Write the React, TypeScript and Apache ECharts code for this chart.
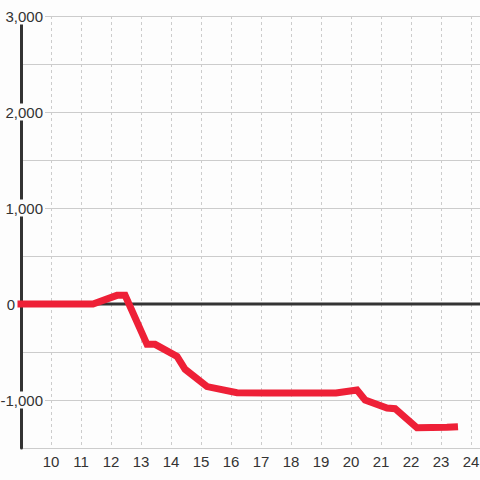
import React, { useEffect, useRef } from "react";
import * as echarts from "echarts";

const xValues = [9.0, 11.4, 12.2, 12.47, 13.2, 13.47, 14.2, 14.47, 15.2, 16.2, 17.2, 18.2, 19.2, 19.5, 20.2, 20.47, 21.2, 21.47, 22.2, 23.2, 23.45];
const yValues = [0, 0, 90, 90, -420, -420, -545, -680, -860, -925, -927, -927, -927, -927, -896, -1000, -1083, -1090, -1290, -1285, -1280];
const zeroLineX = [9, 24.3];
const zeroLineY = [0, 0];
const xTicks = [10, 11, 12, 13, 14, 15, 16, 17, 18, 19, 20, 21, 22, 23, 24];
const yLabelValues = [-1000, 0, 1000, 2000, 3000];

const BG = "#fdfdfd";
const FONT = "'Liberation Sans', Arial, sans-serif";

export default function App() {
  const ref = useRef<HTMLDivElement>(null);
  useEffect(() => {
    if (!ref.current) return;
    const chart = echarts.init(ref.current, null, { renderer: "svg" });
    const data = xValues.map((x, i) => [x, yValues[i]]);
    const zeroData = zeroLineX.map((x, i) => [x, zeroLineY[i]]);
    chart.setOption({
      animation: false,
      backgroundColor: BG,
      textStyle: { fontFamily: FONT },
      grid: { left: 21, right: 0, top: 16, bottom: 32, containLabel: false, outerBoundsMode: "none" },
      xAxis: [
        {
          type: "value",
          min: 9,
          max: 24.3,
          interval: 1,
          position: "bottom",
          z: 0,
          axisLine: { show: true, onZero: false, lineStyle: { color: "#cccccc", width: 1 } },
          axisTick: { show: false },
          minorTick: { show: false },
          minorSplitLine: { show: false },
          axisLabel: {
            color: "#333",
            fontSize: 15,
            fontFamily: FONT,
            margin: 6,
            showMinLabel: false,
            formatter: (v: number) => (xTicks.indexOf(v) >= 0 ? String(v) : ""),
          },
          splitLine: { show: true, lineStyle: { color: "#cccccc", width: 1, type: [3, 3] } },
        },
      ],
      yAxis: [
        {
          type: "value",
          min: -1500,
          max: 3000,
          interval: 500,
          z: 0,
          axisLine: { show: false },
          axisTick: { show: false },
          axisLabel: { show: false },
          splitLine: { show: true, lineStyle: { color: "#cccccc", width: 1 } },
        },
        {
          type: "value",
          min: -1500,
          max: 3000,
          interval: 500,
          position: "left",
          z: 1,
          axisLine: { show: true, onZero: false, lineStyle: { color: "#333333", width: 3 } },
          axisTick: { show: false },
          splitLine: { show: false },
          axisLabel: {
            margin: -24,
            formatter: (v: number) => {
              if (yLabelValues.indexOf(v) < 0) return "";
              if (v === 0) return "{z|0}";
              return "{a|" + v.toLocaleString("en-US") + "}";
            },
            rich: {
              a: {
                color: "#333",
                fontSize: 15,
                fontFamily: FONT,
                lineHeight: 14,
                backgroundColor: BG,
                padding: [1, 2, 1, 2],
              },
              z: {
                color: "#333",
                fontSize: 15,
                fontFamily: FONT,
                lineHeight: 14,
                padding: [1, 30, 1, 0],
              },
            },
          },
        },
      ],
      series: [
        {
          type: "line",
          xAxisIndex: 0,
          yAxisIndex: 0,
          data: zeroData,
          z: 1,
          symbol: "none",
          silent: true,
          lineStyle: { color: "#333333", width: 3 },
        },
        {
          type: "line",
          xAxisIndex: 0,
          yAxisIndex: 0,
          data,
          z: 2,
          symbol: "none",
          clip: false,
          lineStyle: { color: "#ee2037", width: 7, cap: "square", join: "miter" },
        },
      ],
    });
    return () => chart.dispose();
  }, []);
  return (
    <div
      ref={ref}
      style={{ position: "absolute", left: 0, top: 0, width: 480, height: 480, background: BG }}
    />
  );
}
